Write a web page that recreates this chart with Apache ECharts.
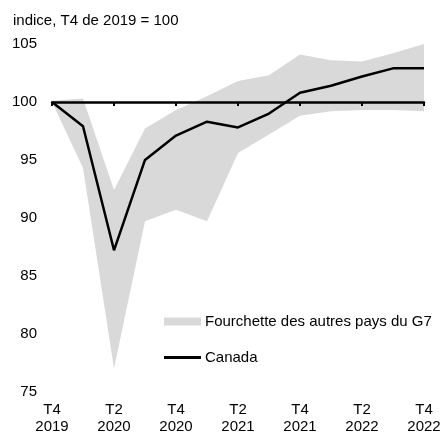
<!DOCTYPE html>
<html>
<head>
<meta charset="utf-8">
<script src="https://cdn.jsdelivr.net/npm/echarts@6/dist/echarts.min.js"></script>
<style>html,body{margin:0;padding:0;background:#fff}#c{width:441px;height:433px}</style>
</head>
<body>
<div id="c"></div>
<script>
const categories = ['T4\n2019','T1\n2020','T2\n2020','T3\n2020','T4\n2020','T1\n2021','T2\n2021','T3\n2021','T4\n2021','T1\n2022','T2\n2022','T3\n2022','T4\n2022'];
const canada   = [100, 97.9, 87.2, 95.0, 97.1, 98.3, 97.8, 99.0, 100.8, 101.4, 102.2, 102.9, 102.9];
const bandLow  = [100, 94.3, 77.0, 89.7, 90.7, 89.7, 95.6, 97.2, 98.8, 99.2, 99.3, 99.3, 99.2];
const bandHigh = [100.1, 100.3, 92.4, 97.7, 99.3, 100.5, 101.8, 102.3, 104.1, 103.6, 103.5, 104.2, 105.0];
const yTicks = {min: 75, max: 105, interval: 5};
const bandName = 'Fourchette des autres pays du G7';
const lineName = 'Canada';

const FONT = '"Liberation Sans", Arial, sans-serif';
const chart = echarts.init(document.getElementById('c'), null, {renderer: 'canvas'});
chart.setOption({
  animation: false,
  title: {
    text: 'indice, T4 de 2019 = 100',
    left: 13, top: 13, padding: 0,
    textStyle: {fontFamily: FONT, fontSize: 15, fontWeight: 'normal', color: '#000'}
  },
  grid: {left: 52, right: 17, top: 44, bottom: 41.3, containLabel: false, outerBoundsMode: 'none'},
  legend: [
    {
      data: [{name: bandName, icon: 'rect'}],
      left: 164, top: 314, padding: 0, itemWidth: 37, itemHeight: 8, itemGap: 0,
      textStyle: {fontFamily: FONT, fontSize: 15, color: '#000', padding: [0, 0, 0, -1]}
    },
    {
      data: [{name: lineName, icon: 'rect'}],
      left: 164, top: 350, padding: 0, itemWidth: 37, itemHeight: 3, itemGap: 0,
      textStyle: {fontFamily: FONT, fontSize: 15, color: '#000', padding: [0, 0, 0, -1]}
    }
  ],
  xAxis: [
    {
      type: 'category', data: categories, boundaryGap: false,
      axisLine: {show: false}, axisTick: {show: false},
      axisLabel: {interval: 1, margin: 10, fontFamily: FONT, fontSize: 15, color: '#000', lineHeight: 17},
      splitLine: {show: false}
    },
    {
      type: 'category', data: categories, boundaryGap: false, position: 'bottom',
      z: 10,
      axisLine: {show: true, onZero: true, onZeroAxisIndex: 1, lineStyle: {color: '#000', width: 2.5}},
      axisTick: {show: true, interval: 1, length: 4, lineStyle: {color: '#000', width: 2}},
      axisLabel: {show: false},
      splitLine: {show: false}
    }
  ],
  yAxis: [
    {
      type: 'value', min: yTicks.min, max: yTicks.max, interval: yTicks.interval,
      axisLine: {show: false}, axisTick: {show: false}, splitLine: {show: false},
      axisLabel: {margin: 15, fontFamily: FONT, fontSize: 15, color: '#000'}
    },
    {
      type: 'value', min: yTicks.min - 100, max: yTicks.max - 100,
      show: false
    }
  ],
  series: [
    {
      name: 'bandBase', type: 'line', stack: 'band', data: bandLow,
      symbol: 'none', lineStyle: {width: 0, opacity: 0}, silent: true, z: 1
    },
    {
      name: bandName, type: 'line', stack: 'band',
      data: bandHigh.map((h, i) => +(h - bandLow[i]).toFixed(3)),
      symbol: 'none', lineStyle: {width: 0, opacity: 0},
      areaStyle: {color: '#d9d9d9', opacity: 1},
      itemStyle: {color: '#d9d9d9'}, z: 1
    },
    {
      name: lineName, type: 'line', data: canada,
      symbol: 'none', lineStyle: {color: '#000', width: 2.5},
      itemStyle: {color: '#000'}, z: 12
    }
  ]
});
</script>
</body>
</html>
